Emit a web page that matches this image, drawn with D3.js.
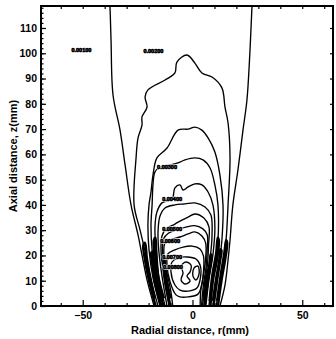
<!DOCTYPE html>
<html>
<head>
<meta charset="utf-8">
<script src="https://cdn.jsdelivr.net/npm/d3@7"></script>
<style>
    html, body { margin: 0; padding: 0; background: #fff; }
    svg { display: block; font-family: "Liberation Sans", Arial, sans-serif; }
</style>
</head>
<body>
<svg id="chart" width="336" height="339"></svg>
<script>
// contour lines as [r (mm), z (mm)]
const c1Left = [[-37.8,121],[-37.6,118.7],[-37.1,105.2],[-36.2,83.5],[-33.0,69.6],[-30.7,55.8],[-28.0,40.0],[-24.8,28.1],[-23.0,20.2],[-20.7,10.3],[-17.5,0]];
const c1Right = [[12.5,0],[14.8,8.3],[16.2,18.2],[17.1,26.1],[18.4,40.0],[20.7,53.8],[23.0,69.6],[24.8,81.5],[26.2,101.3],[27.1,118.7],[27.3,121]];
const c2 = [[-15.7,0],[-18.9,10.3],[-21.2,20.2],[-23.9,30.1],[-26.6,40.0],[-25.7,58.6],[-24.8,66.5],[-23.0,71.6],[-23.0,74.8],[-20.7,78.7],[-21.6,82.7],[-20.3,85.5],[-12.5,89.4],[-8.0,92.2],[-7.1,96.5],[-2.5,99.3],[1.1,96.1],[4.3,92.2],[8.9,90.6],[13.4,86.3],[14.8,78.7],[16.2,72.4],[17.1,58.6],[16.2,40.0],[15.3,26.1],[13.9,16.2],[12.1,6.3],[10.7,0]];
const c3 = [[-14.8,0],[-18.0,11.1],[-19.8,22.2],[-20.3,32.0],[-19.8,40.0],[-18.9,45.1],[-18.0,51.8],[-16.2,58.6],[-11.6,62.5],[-6.6,69.6],[-2.0,70.0],[1.1,70.8],[4.3,69.6],[7.1,66.5],[10.2,60.9],[12.5,51.8],[13.9,40.0],[13.4,26.1],[12.1,16.2],[10.2,7.1],[9.3,0]];
const c4 = [[-13.9,0],[-16.6,11.1],[-18.4,22.2],[-18.9,32.0],[-18.4,40.0],[-18.0,47.9],[-17.1,53.0],[-14.8,55.0],[-10.2,55.8],[-6.6,56.6],[-3.4,57.8],[1.1,58.6],[4.8,57.8],[8.0,54.6],[10.2,47.9],[11.6,40.0],[11.6,26.1],[10.2,16.2],[8.4,7.1],[7.5,0]];
const c5 = [[-12.5,0],[-15.3,11.1],[-16.6,22.2],[-17.1,30.9],[-16.2,37.2],[-13.9,40.8],[-9.3,42.3],[-8.0,46.7],[-5.7,47.9],[-4.3,45.9],[-2.0,47.1],[1.1,48.3],[4.3,47.9],[7.1,45.1],[9.3,40.0],[10.2,30.9],[9.3,20.2],[7.5,10.3],[6.1,0]];
const c6 = [[-11.6,0],[-13.9,11.9],[-15.3,21.4],[-15.7,29.3],[-14.8,35.6],[-12.5,38.8],[-8.0,40.0],[-3.4,40.4],[1.1,40.8],[5.7,39.2],[8.4,36.0],[8.9,28.1],[8.0,19.0],[6.1,10.3],[5.2,0]];
const c7 = [[-10.7,0],[-13.0,12.3],[-14.3,21.4],[-13.9,27.7],[-12.1,30.5],[-8.0,32.4],[-4.8,34.0],[-2.0,35.2],[1.1,36.4],[5.2,34.8],[7.5,31.3],[7.3,24.1],[6.8,16.2],[5.5,9.1],[4.6,0]];
const c7b = [[-9.9,0],[-12.3,12.5],[-13.6,21.0],[-13.2,26.5],[-11.0,28.8],[-7.0,30.2],[-3.0,31.2],[1.0,31.8],[4.6,30.6],[6.7,28.2],[6.7,22.5],[6.2,15.5],[5.0,8.5],[4.1,0]];
const c8 = [[-9.0,0],[-9.8,5.5],[-11.6,13.1],[-13.0,20.2],[-12.5,24.9],[-9.3,26.5],[-5.7,27.3],[-2.0,28.5],[1.1,29.3],[4.3,27.7],[6.0,24.9],[6.0,19.0],[5.0,12.3],[3.8,6.3],[3.5,0]];
// tight hairpins in the two dense bands near the burner
const bandL1 = [[-16.8,0],[-19.8,10],[-21.6,18],[-22.4,24],[-21.6,25],[-20.8,19],[-19.6,13],[-17.2,3]];
const bandL2 = [[-14.4,0],[-17.2,10],[-18.4,17],[-18.8,21],[-18.2,21.5],[-17.8,17],[-16.6,11],[-14.0,2]];
const bandL3 = [[-13.2,0],[-16.0,10],[-17.3,20],[-17.6,26],[-16.9,27],[-16.5,22],[-15.6,12],[-13.0,3]];
const bandL4 = [[-10.2,0],[-12.4,9],[-13.2,16],[-13.0,19.5],[-12.5,17],[-12.0,12],[-10.0,3]];
const bandR1 = [[11.6,0],[13.2,10],[15.0,19],[15.8,25],[15.3,26],[14.5,21],[12.8,12],[11.2,2]];
const bandR2 = [[9.6,0],[11.2,10],[12.6,18],[13.2,22],[12.7,22.5],[12.2,18],[10.8,11],[9.3,2]];
const bandR3 = [[8.2,0],[9.3,10],[11.3,19],[12.0,26],[11.5,27],[10.8,21],[9.0,12],[7.8,2]];
const bandR4 = [[5.6,0],[7.0,10],[8.3,17],[8.7,20],[8.3,20.5],[7.8,16],[6.6,11],[5.4,2]];
// closed loops near the nozzle
const c9 = [[-7.5,4.4],[-10.2,9.5],[-11.6,16.2],[-11.2,20.6],[-8.0,22.2],[-4.3,23.3],[-0.2,23.7],[3.4,22.6],[5.0,19.8],[5.0,13.5],[4.2,8.3],[2.5,4.7],[-2.0,3.6],[-5.7,3.6]];
const c10 = [[-8.0,8.3],[-9.8,13.5],[-9.3,17.4],[-6.6,19.0],[-2.5,19.4],[1.6,18.6],[3.6,15.8],[3.6,11.1],[2.0,7.1],[-2.0,5.9],[-5.7,6.3]];
const loop1 = [[-5.2,15.8],[-3.0,17.4],[-0.7,16.2],[-1.1,13.5],[-2.5,11.9],[-1.1,9.9],[-3.4,8.7],[-5.2,10.3],[-4.3,13.1]];
const loop2 = [[0.7,15.0],[2.5,15.8],[3.0,12.7],[1.6,10.3],[0.2,11.9]];

const openLines = [c1Left, c1Right, c2, c3, c4, c5, c6, c7, c7b, c8];
const bandLines = [bandL1, bandL2, bandL3, bandL4, bandR1, bandR2, bandR3, bandR4];
const closedLines = [c9, c10, loop1, loop2];

// contour level labels
const labelText = ["0.00100", "0.00200", "0.00300", "0.00400", "0.00500", "0.00600", "0.00700", "0.00800"];
const labelR = [-50.6, -17.8, -11.6, -9.3, -9.3, -10.2, -9.3, -8.9];
const labelZ = [101.3, 100.9, 55.0, 42.3, 30.5, 25.7, 19.4, 15.4];

const rTicks = [-50, 0, 50];
const rMinor = [-60, -40, -30, -20, -10, 10, 20, 30, 40, 60];
const zTicks = [0, 10, 20, 30, 40, 50, 60, 70, 80, 90, 100, 110];
const zMinor = d3.range(0, 119, 2);

const svg = d3.select("#chart");
const x = d3.scaleLinear().domain([-69, 64]).range([41, 333]);
const y = d3.scaleLinear().domain([0, 118.7]).range([306, 6]);

svg.append("clipPath").attr("id", "plot")
    .append("rect")
    .attr("x", 41).attr("y", 6).attr("width", 292).attr("height", 300);

const g = svg.append("g").attr("clip-path", "url(#plot)");

const line = d3.line()
    .x(d => x(d[0]))
    .y(d => y(d[1]))
    .curve(d3.curveCatmullRom.alpha(0.5));

const loop = d3.line()
    .x(d => x(d[0]))
    .y(d => y(d[1]))
    .curve(d3.curveCatmullRomClosed.alpha(0.5));

g.selectAll("path.band")
    .data(bandLines)
    .enter()
    .append("path")
    .attr("class", "band")
    .attr("d", line)
    .attr("fill", "none")
    .attr("stroke", "#000")
    .attr("stroke-width", 2.4);

g.selectAll("path.open")
    .data(openLines)
    .enter()
    .append("path")
    .attr("class", "open")
    .attr("d", line)
    .attr("fill", "none")
    .attr("stroke", "#000")
    .attr("stroke-width", 1.35);

g.selectAll("path.closed")
    .data(closedLines)
    .enter()
    .append("path")
    .attr("class", "closed")
    .attr("d", loop)
    .attr("fill", "none")
    .attr("stroke", "#000")
    .attr("stroke-width", 1.35);

// level labels sit on the lines with a white halo
const lvl = g.selectAll("g.lvl")
    .data(labelText)
    .enter()
    .append("g")
    .attr("class", "lvl")
    .attr("transform", (d, i) => `translate(${x(labelR[i])},${y(labelZ[i])})`);

lvl.append("text")
    .attr("dy", "0.35em")
    .attr("text-anchor", "middle")
    .attr("font-size", "5.5px")
    .attr("font-weight", "bold")
    .attr("stroke", "#fff")
    .attr("stroke-width", 1.6)
    .text(d => d);

lvl.append("text")
    .attr("dy", "0.35em")
    .attr("text-anchor", "middle")
    .attr("font-size", "5.5px")
    .attr("font-weight", "bold")
    .attr("fill", "#000")
    .attr("stroke", "#000")
    .attr("stroke-width", 0.6)
    .text(d => d);

// axes, ticks pointing inward
const axisFont = sel => sel.selectAll("text")
    .attr("font-size", "10.5px")
    .attr("font-weight", "bold")
    .attr("fill", "#000");

svg.append("g")
    .attr("transform", "translate(41,0)")
    .call(d3.axisLeft(y).tickValues(zMinor).tickSize(-2.5).tickFormat(""))
    .call(a => a.select(".domain").remove());

svg.append("g")
    .attr("transform", "translate(41,0)")
    .call(d3.axisLeft(y).tickValues(zTicks).tickSize(-5).tickPadding(4))
    .call(a => a.select(".domain").remove())
    .call(axisFont);

svg.append("g")
    .attr("transform", "translate(333,0)")
    .call(d3.axisRight(y).tickValues(zTicks).tickSize(-3).tickFormat(""))
    .call(a => a.select(".domain").remove());

svg.append("g")
    .attr("transform", "translate(0,306)")
    .call(d3.axisBottom(x).tickValues(rMinor).tickSize(-3).tickFormat(""))
    .call(a => a.select(".domain").remove());

svg.append("g")
    .attr("transform", "translate(0,306)")
    .call(d3.axisBottom(x).tickValues(rTicks).tickSize(-6).tickPadding(6))
    .call(a => a.select(".domain").remove())
    .call(axisFont);

svg.append("g")
    .attr("transform", "translate(0,6)")
    .call(d3.axisTop(x).tickValues(rTicks.concat(rMinor)).tickSize(-3).tickFormat(""))
    .call(a => a.select(".domain").remove());

svg.selectAll(".tick line").attr("stroke", "#000").attr("stroke-width", 1.2);

svg.append("rect")
    .attr("x", 41).attr("y", 6)
    .attr("width", 292).attr("height", 300)
    .attr("fill", "none")
    .attr("stroke", "#000")
    .attr("stroke-width", 2);

svg.append("text")
    .attr("x", 190)
    .attr("y", 334)
    .attr("text-anchor", "middle")
    .attr("font-size", "11px")
    .attr("font-weight", "bold")
    .text("Radial distance, r(mm)");

svg.append("text")
    .attr("transform", "translate(17,156) rotate(-90)")
    .attr("text-anchor", "middle")
    .attr("font-size", "11px")
    .attr("font-weight", "bold")
    .text("Axial distance, z(mm)");
</script>
</body>
</html>
